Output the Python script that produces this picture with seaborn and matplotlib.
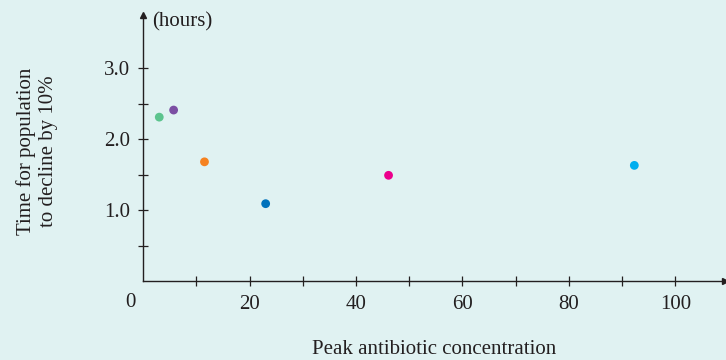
import matplotlib
matplotlib.use("Agg")
import matplotlib.pyplot as plt
import seaborn as sns
import pandas as pd

# Peak antibiotic concentration vs. time for the population to decline by 10%
groups = ["A", "B", "C", "D", "E", "F"]
peak_conc = [3.0, 5.7, 11.5, 23.0, 46.1, 92.3]
decline_hours = [2.31, 2.41, 1.68, 1.09, 1.49, 1.63]
point_colors = ["#5cc48e", "#7b4fa3", "#f58220", "#0072bc", "#ec008c", "#00aeef"]

x_major = [20, 40, 60, 80, 100]
y_major = [1.0, 2.0, 3.0]

bg = "#e0f2f2"
ink = "#231f20"
fs = 15

sns.set_theme(style="white")
plt.rcParams["font.family"] = ["Liberation Serif", "DejaVu Serif"]

df = pd.DataFrame({"group": groups, "conc": peak_conc, "hours": decline_hours})

fig = plt.figure(figsize=(7.26, 3.6), dpi=100, facecolor=bg)
ax = fig.add_axes([143.3 / 726, 79 / 360, 582 / 726, 266 / 360])
ax.set_facecolor(bg)

sns.scatterplot(data=df, x="conc", y="hours", hue="group", palette=point_colors,
                s=40, linewidth=0, legend=False, ax=ax, zorder=3)

ax.set_xlim(0, 109.4)
ax.set_ylim(0, 3.75)

for side in ("top", "right"):
    ax.spines[side].set_visible(False)
for side in ("left", "bottom"):
    ax.spines[side].set_color(ink)
    ax.spines[side].set_linewidth(1.0)

xt = list(range(10, 110, 10))
ax.set_xticks(xt)
ax.set_xticklabels([str(v) if v in x_major else "" for v in xt])
yt = [0.5, 1.0, 1.5, 2.0, 2.5, 3.0]
ax.set_yticks(yt)
ax.set_yticklabels([f"{v:.1f}" if v in y_major else "" for v in yt])
ax.tick_params(axis="both", bottom=True, left=True, direction="inout", length=7.5,
               width=0.9, color=ink, labelsize=fs, labelcolor=ink)
ax.tick_params(axis="y", pad=6)
ax.tick_params(axis="x", pad=6)

# Arrow heads at the ends of both axes
ax.plot(1, 0, marker=">", color=ink, markersize=5, transform=ax.transAxes, clip_on=False)
ax.plot(0, 1, marker="^", color=ink, markersize=5, transform=ax.transAxes, clip_on=False)

# Shared origin label
ax.text(-0.022, -0.045, "0", transform=ax.transAxes, ha="center", va="top",
        fontsize=fs, color=ink)

ax.text(1.6, 3.66, "(hours)", ha="left", va="center", fontsize=fs, color=ink)

ax.set_xlabel("")
ax.set_ylabel("")
fig.text(312 / 726, 1 - 350 / 360, "Peak antibiotic concentration", ha="left",
         va="center", fontsize=fs, color=ink)
fig.text(37 / 726, 1 - 151 / 360, "Time for population\nto decline by 10%",
         rotation=90, ha="center", va="center", multialignment="center",
         fontsize=fs, color=ink, linespacing=1.25)

fig.savefig("out.png", dpi=100, facecolor=bg)
